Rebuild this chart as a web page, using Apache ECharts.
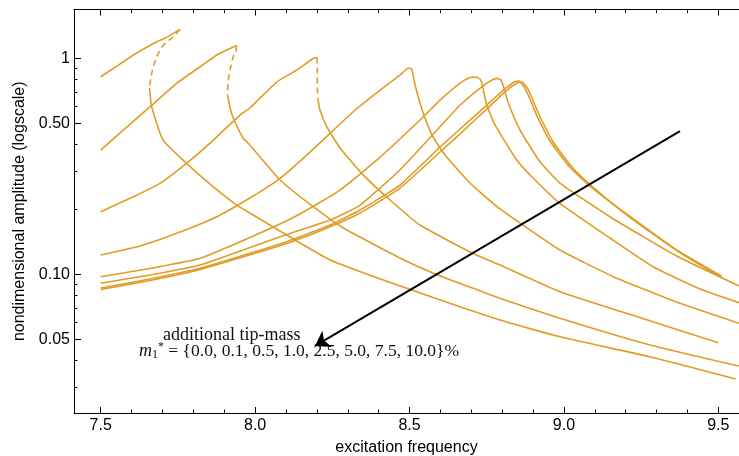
<!DOCTYPE html>
<html>
<head>
<meta charset="utf-8">
<script src="https://cdn.jsdelivr.net/npm/echarts@6/dist/echarts.min.js"></script>
<style>
html,body{margin:0;padding:0;background:#fff;}
#chart{width:739px;height:456px;}
</style>
</head>
<body>
<div id="chart"></div>
<script>
// ---- axis ticks ----
const xMajorTicks = [7.5, 8.0, 8.5, 9.0, 9.5];
const xMajorLabels = ['7.5', '8.0', '8.5', '9.0', '9.5'];
const xMinorTicks = [7.5,7.6,7.7,7.8,7.9,8.0,8.1,8.2,8.3,8.4,8.5,8.6,8.7,8.8,8.9,9.0,9.1,9.2,9.3,9.4,9.5];
const yMajorTicks = [0.05, 0.1, 0.5, 1];
const yMajorLabels = ['0.05', '0.10', '0.50', '1'];
const yMinorTicks = [0.03,0.04,0.05,0.06,0.07,0.08,0.09,0.1,0.2,0.3,0.4,0.5,0.6,0.7,0.8,0.9,1];
const xRange = [7.4135, 9.567];
const yRange = [0.0228, 1.683];

// ---- tip-mass values (%) ----
const tipMasses = [0.0, 0.1, 0.5, 1.0, 2.5, 5.0, 7.5, 10.0];

// ---- response curves [frequency, amplitude] ----
const m00 = [[7.5,0.0850],[7.660,0.0936],[7.822,0.1052],[8.102,0.1389],[8.243,0.1661],[8.340,0.1922],[8.469,0.2509],[8.599,0.3683],[8.712,0.518],[8.777,0.634],[8.825,0.729],[8.852,0.773],[8.864,0.777],[8.874,0.752],[8.887,0.706],[8.906,0.608],[8.923,0.535],[8.965,0.410],[9.029,0.3105],[9.094,0.2536],[9.208,0.1862],[9.370,0.1275],[9.51,0.0966]];
const m01 = [[7.5,0.0864],[7.660,0.0951],[7.822,0.1066],[8.102,0.1416],[8.243,0.1691],[8.340,0.1985],[8.469,0.2591],[8.599,0.3885],[8.696,0.518],[8.761,0.6275],[8.813,0.729],[8.842,0.781],[8.855,0.785],[8.864,0.760],[8.877,0.713],[8.897,0.6145],[8.913,0.5405],[8.955,0.4142],[9.019,0.3139],[9.084,0.2563],[9.203,0.1902],[9.365,0.1296],[9.51,0.0982]];
const m05 = [[7.5,0.0909],[7.660,0.0993],[7.822,0.1104],[8.081,0.1493],[8.243,0.1784],[8.340,0.2093],[8.469,0.3040],[8.599,0.4826],[8.664,0.608],[8.728,0.7266],[8.767,0.7935],[8.783,0.808],[8.796,0.7935],[8.806,0.729],[8.820,0.621],[8.858,0.4656],[8.923,0.3311],[8.987,0.2647],[9.149,0.1848],[9.365,0.1215],[9.567,0.0883]];
const m10 = [[7.5,0.0975],[7.660,0.1064],[7.822,0.1186],[8.038,0.1604],[8.145,0.1902],[8.275,0.2456],[8.405,0.3491],[8.534,0.518],[8.599,0.641],[8.664,0.768],[8.696,0.815],[8.715,0.819],[8.728,0.802],[8.735,0.760],[8.750,0.608],[8.777,0.4914],[8.847,0.3381],[8.900,0.2792],[8.987,0.2131],[9.149,0.1473],[9.289,0.1084],[9.441,0.0855],[9.567,0.0739]];
const m25 = [[7.5,0.1228],[7.627,0.1352],[7.757,0.157],[7.876,0.1848],[7.983,0.2255],[8.081,0.2783],[8.162,0.351],[8.243,0.4495],[8.324,0.5764],[8.405,0.713],[8.469,0.837],[8.496,0.899],[8.507,0.892],[8.518,0.752],[8.541,0.5764],[8.573,0.4414],[8.615,0.3566],[8.696,0.2647],[8.777,0.2093],[8.863,0.1709],[8.987,0.1296],[9.160,0.0975],[9.376,0.0734],[9.567,0.0593]];
const m50Upper = [[7.5,0.1949],[7.606,0.2287],[7.692,0.2638],[7.778,0.3265],[7.865,0.4184],[7.951,0.5464],[7.983,0.589],[8.070,0.7766],[8.135,0.883],[8.188,0.998],[8.2005,1.0085]];
const m50Unstable = [[8.2005,1.0085],[8.2014,0.883],[8.2014,0.752],[8.2037,0.641]];
const m50Lower = [[8.2037,0.641],[8.210,0.5764],[8.232,0.4826],[8.275,0.3843],[8.345,0.2935],[8.437,0.2208],[8.534,0.1691],[8.701,0.1259],[8.793,0.1104],[8.987,0.0831],[9.203,0.066],[9.5,0.0482]];
const m75Upper = [[7.5,0.3762],[7.573,0.4656],[7.660,0.597],[7.746,0.766],[7.822,0.914],[7.876,1.036],[7.940,1.146]];
const m75Unstable = [[7.940,1.146],[7.938,1.07],[7.929,1.017],[7.919,0.883],[7.912,0.768],[7.911,0.676]];
const m75Lower = [[7.911,0.676],[7.919,0.589],[7.929,0.5294],[7.961,0.4276],[7.983,0.3969],[8.081,0.2733],[8.188,0.2056],[8.286,0.1638],[8.469,0.119],[8.583,0.1003],[8.707,0.0861],[8.793,0.0774],[8.987,0.0626],[9.279,0.0471],[9.567,0.0376]];
const m100Upper = [[7.5,0.822],[7.553,0.921],[7.606,1.036],[7.681,1.194],[7.708,1.238],[7.757,1.362]];
const m100Unstable = [[7.757,1.362],[7.735,1.259],[7.703,1.152],[7.681,1.017],[7.665,0.852],[7.658,0.729]];
const m100Lower = [[7.658,0.729],[7.665,0.597],[7.702,0.418],[7.778,0.3265],[7.864,0.2544],[7.940,0.2093],[7.983,0.1922],[8.048,0.1691],[8.243,0.1165],[8.491,0.0861],[8.793,0.0614],[8.987,0.0514],[9.279,0.0415],[9.556,0.03275]];

// ---- annotation arrow [frequency, amplitude] ----
const arrowFrom = [9.376, 0.4607];
const arrowTo = [8.194, 0.0466];

const ORANGE = '#E19C24';
const FONT = 'Liberation Sans, Arial, Helvetica, sans-serif';

function solid(name, data) {
  return { name, type: 'line', data, showSymbol: false, symbol: 'none', smooth: 0.15,
    lineStyle: { color: ORANGE, width: 1.6 }, itemStyle: { color: ORANGE }, z: 3, silent: true };
}
function dashed(name, data) {
  return { name, type: 'line', data, showSymbol: false, symbol: 'none', smooth: 0.15,
    lineStyle: { color: ORANGE, width: 1.6, type: [6, 4] }, itemStyle: { color: ORANGE }, z: 3, silent: true };
}
function pickLabel(v, ticks, labels) {
  let best = 0, bd = Infinity;
  ticks.forEach((t, i) => { const d = Math.abs(Math.log(v) - Math.log(t)); if (d < bd) { bd = d; best = i; } });
  return labels[best];
}

const baseX = { type: 'value', min: xRange[0], max: xRange[1], splitLine: { show: false } };
const baseY = { type: 'log', logBase: 10, min: yRange[0], max: yRange[1], splitLine: { show: false } };

const option = {
  animation: false,
  backgroundColor: '#fff',
  grid: { left: 74, right: 0, top: 9.5, bottom: 43, containLabel: false, outerBoundsMode: 'none' },
  xAxis: [
    Object.assign({}, baseX, {
      position: 'bottom',
      axisLine: { show: true, lineStyle: { color: '#000', width: 1 } },
      axisTick: { show: true, inside: true, length: 6, customValues: xMajorTicks, lineStyle: { color: '#000', width: 1 } },
      axisLabel: { show: true, customValues: xMajorTicks, margin: 5, color: '#000', fontFamily: FONT, fontSize: 16,
        formatter: v => pickLabel(v, xMajorTicks, xMajorLabels) },
      name: 'excitation frequency', nameLocation: 'middle', nameGap: 27,
      nameTextStyle: { color: '#000', fontFamily: FONT, fontSize: 16 }
    }),
    Object.assign({}, baseX, {
      position: 'bottom',
      axisLine: { show: false },
      axisTick: { show: true, inside: true, length: 3.5, customValues: xMinorTicks, lineStyle: { color: '#000', width: 1 } },
      axisLabel: { show: false }
    }),
    Object.assign({}, baseX, {
      position: 'top',
      axisLine: { show: true, lineStyle: { color: '#000', width: 1 } },
      axisTick: { show: true, inside: true, length: 6, customValues: xMajorTicks, lineStyle: { color: '#000', width: 1 } },
      axisLabel: { show: false }
    }),
    Object.assign({}, baseX, {
      position: 'top',
      axisLine: { show: false },
      axisTick: { show: true, inside: true, length: 3.5, customValues: xMinorTicks, lineStyle: { color: '#000', width: 1 } },
      axisLabel: { show: false }
    })
  ],
  yAxis: [
    Object.assign({}, baseY, {
      position: 'left',
      axisLine: { show: true, lineStyle: { color: '#000', width: 1 } },
      axisTick: { show: true, inside: true, length: 7, customValues: yMajorTicks, lineStyle: { color: '#000', width: 1 } },
      axisLabel: { show: true, customValues: yMajorTicks, margin: 4, color: '#000', fontFamily: FONT, fontSize: 16,
        formatter: v => pickLabel(v, yMajorTicks, yMajorLabels) },
      name: 'nondimensional amplitude (logscale)', nameLocation: 'middle', nameGap: 36,
      nameTextStyle: { color: '#000', fontFamily: FONT, fontSize: 16 }
    }),
    Object.assign({}, baseY, {
      position: 'left',
      axisLine: { show: false },
      axisTick: { show: true, inside: true, length: 3.5, customValues: yMinorTicks, lineStyle: { color: '#000', width: 1 } },
      axisLabel: { show: false }
    })
  ],
  series: [
    solid('0.0%', m00),
    solid('0.1%', m01),
    solid('0.5%', m05),
    solid('1.0%', m10),
    solid('2.5%', m25),
    solid('5.0% stable', m50Upper), dashed('5.0% unstable', m50Unstable), solid('5.0% lower', m50Lower),
    solid('7.5% stable', m75Upper), dashed('7.5% unstable', m75Unstable), solid('7.5% lower', m75Lower),
    solid('10.0% stable', m100Upper), dashed('10.0% unstable', m100Unstable), solid('10.0% lower', m100Lower),
    {
      name: 'arrow', type: 'lines', coordinateSystem: 'cartesian2d', z: 5, silent: true,
      symbol: ['none', 'arrow'], symbolSize: 14,
      lineStyle: { color: '#000', width: 2, opacity: 1, curveness: 0 },
      data: [{ coords: [arrowFrom, arrowTo] }]
    }
  ],
  graphic: [
    {
      type: 'text', left: 163, top: 326, silent: true,
      style: { text: 'additional tip-mass', fill: '#111', font: '18px "Liberation Serif", "Times New Roman", serif' }
    },
    {
      type: 'text', left: 139, top: 341, silent: true,
      style: {
        text: '{it|m}{sub|1}{sup|*} = {0.0, 0.1, 0.5, 1.0, 2.5, 5.0, 7.5, 10.0}%',
        fill: '#111', font: '17.5px "Liberation Serif", "Times New Roman", serif',
        rich: {
          it: { fontFamily: 'Liberation Serif', fontStyle: 'italic', fontSize: 18, fill: '#111' },
          sub: { fontFamily: 'Liberation Serif', fontSize: 12, fill: '#111', verticalAlign: 'bottom', lineHeight: 20 },
          sup: { fontFamily: 'Liberation Serif', fontSize: 12, fill: '#111', verticalAlign: 'top', lineHeight: 20 }
        }
      }
    }
  ]
};

const chart = echarts.init(document.getElementById('chart'), null, { renderer: 'canvas' });
chart.setOption(option);
</script>
</body>
</html>
